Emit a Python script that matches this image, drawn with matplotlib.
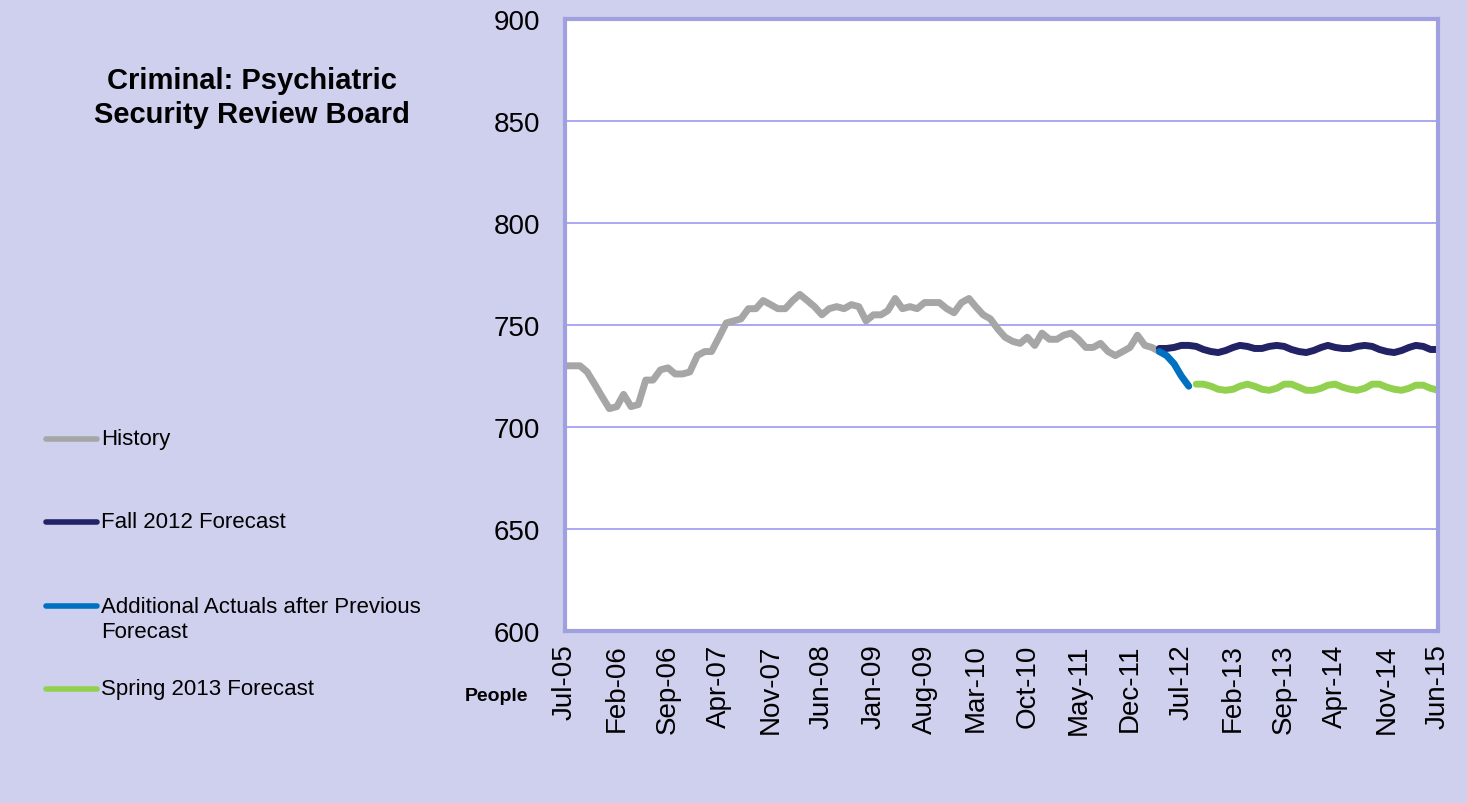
import pandas as pd
import matplotlib
matplotlib.use('Agg')
import matplotlib.pyplot as plt
from matplotlib.lines import Line2D

plt.rcParams['font.family'] = ['Liberation Sans', 'DejaVu Sans']

# --- data (monthly caseload) ---
history = [730, 730, 730, 727, 721, 715, 709, 710, 716, 710,
           711, 723, 723, 728, 729, 726, 726, 727, 735, 737,
           737, 744, 751, 752, 753, 758, 758, 762, 760, 758,
           758, 762, 765, 762, 759, 755, 758, 759, 758, 760,
           759, 752, 755, 755, 757, 763, 758, 759, 758, 761,
           761, 761, 758, 756, 761, 763, 759, 755, 753, 748,
           744, 742, 741, 744, 740, 746, 743, 743, 745, 746,
           743, 739, 739, 741, 737, 735, 737, 739, 745, 740,
           739, 737]
history_start = '2005-07-01'

fall_2012 = [738.5, 738.5, 739, 740, 740, 739.5, 738, 737, 736.5, 737.5,
             739, 740, 739.5, 738.5, 738.5, 739.5, 740, 739.5, 738, 737,
             736.5, 737.5, 739, 740, 739, 738.5, 738.5, 739.5, 740, 739.5,
             738, 737, 736.5, 737.5, 739, 740, 739.5, 738, 738]
fall_start = '2012-04-01'

actuals = [737, 735, 731, 725, 720]
actuals_start = '2012-04-01'

spring_2013 = [721, 721, 720, 718.5, 718, 718.5, 720, 721, 720, 718.5,
               718, 719, 721, 721, 719.5, 718, 718, 719, 720.5, 721,
               719.5, 718.5, 718, 719, 721, 721, 719.5, 718.5, 718, 719,
               720.5, 720.5, 719, 718]
spring_start = '2012-09-01'

tick_labels = ['Jul-05', 'Feb-06', 'Sep-06', 'Apr-07', 'Nov-07', 'Jun-08',
               'Jan-09', 'Aug-09', 'Mar-10', 'Oct-10', 'May-11', 'Dec-11',
               'Jul-12', 'Feb-13', 'Sep-13', 'Apr-14', 'Nov-14', 'Jun-15']
y_ticks = [600, 650, 700, 750, 800, 850, 900]

series = [
    ('History', history, history_start, '#A6A6A6'),
    ('Fall 2012 Forecast', fall_2012, fall_start, '#222266'),
    ('Additional Actuals after Previous\nForecast', actuals, actuals_start, '#0070C0'),
    ('Spring 2013 Forecast', spring_2013, spring_start, '#92D050'),
]

bg = '#CFCFEE'
frame = '#A0A0E0'
W, H = 1467, 804

fig = plt.figure(figsize=(W / 100, H / 100), dpi=100, facecolor=bg)
ax = fig.add_axes([565 / W, 1 - 632 / H, (1438 - 565) / W, (632 - 20) / H])
ax.set_facecolor('white')

for name, vals, start, color in series:
    dates = pd.date_range(start, periods=len(vals), freq='MS')
    ax.plot(dates, vals, color=color, lw=5, solid_capstyle='round',
            solid_joinstyle='round')

tick_dates = pd.to_datetime(tick_labels, format='%b-%y')
ax.set_xticks(tick_dates)
ax.set_xticklabels(tick_labels, rotation=90, fontsize=20)
ax.set_xlim(tick_dates[0], tick_dates[-1])
ax.set_ylim(y_ticks[0], y_ticks[-1])
ax.set_yticks(y_ticks)
ax.tick_params(axis='y', labelsize=20, length=0, pad=18)
ax.tick_params(axis='x', length=0, pad=9)
ax.grid(axis='y', color='#9999EE', lw=1.2)
ax.set_axisbelow(True)
for sp in ax.spines.values():
    sp.set_color(frame)
    sp.set_linewidth(3)

# title on the left
fig.text(252 / W, 1 - 98 / H, 'Criminal: Psychiatric\nSecurity Review Board',
         ha='center', va='center', fontsize=21, fontweight='bold',
         linespacing=1.25)

# y-axis unit
fig.text(528 / W, 1 - 697 / H, 'People', ha='right', va='center',
         fontsize=14, fontweight='bold')

# legend drawn by hand
legend_y = [440, 523, 607, 690]
for (name, vals, start, color), yy in zip(series, legend_y):
    fy = 1 - yy / H
    fig.add_artist(Line2D([46 / W, 97 / W], [fy, fy], color=color, lw=4,
                          solid_capstyle='round', transform=fig.transFigure))
    n_lines = name.count('\n') + 1
    ty = 1 - (yy + 13 * (n_lines - 1)) / H
    fig.text(101 / W, ty, name, ha='left', va='center',
             fontsize=16, linespacing=1.2)

fig.savefig('out.png', dpi=100, facecolor=bg)
